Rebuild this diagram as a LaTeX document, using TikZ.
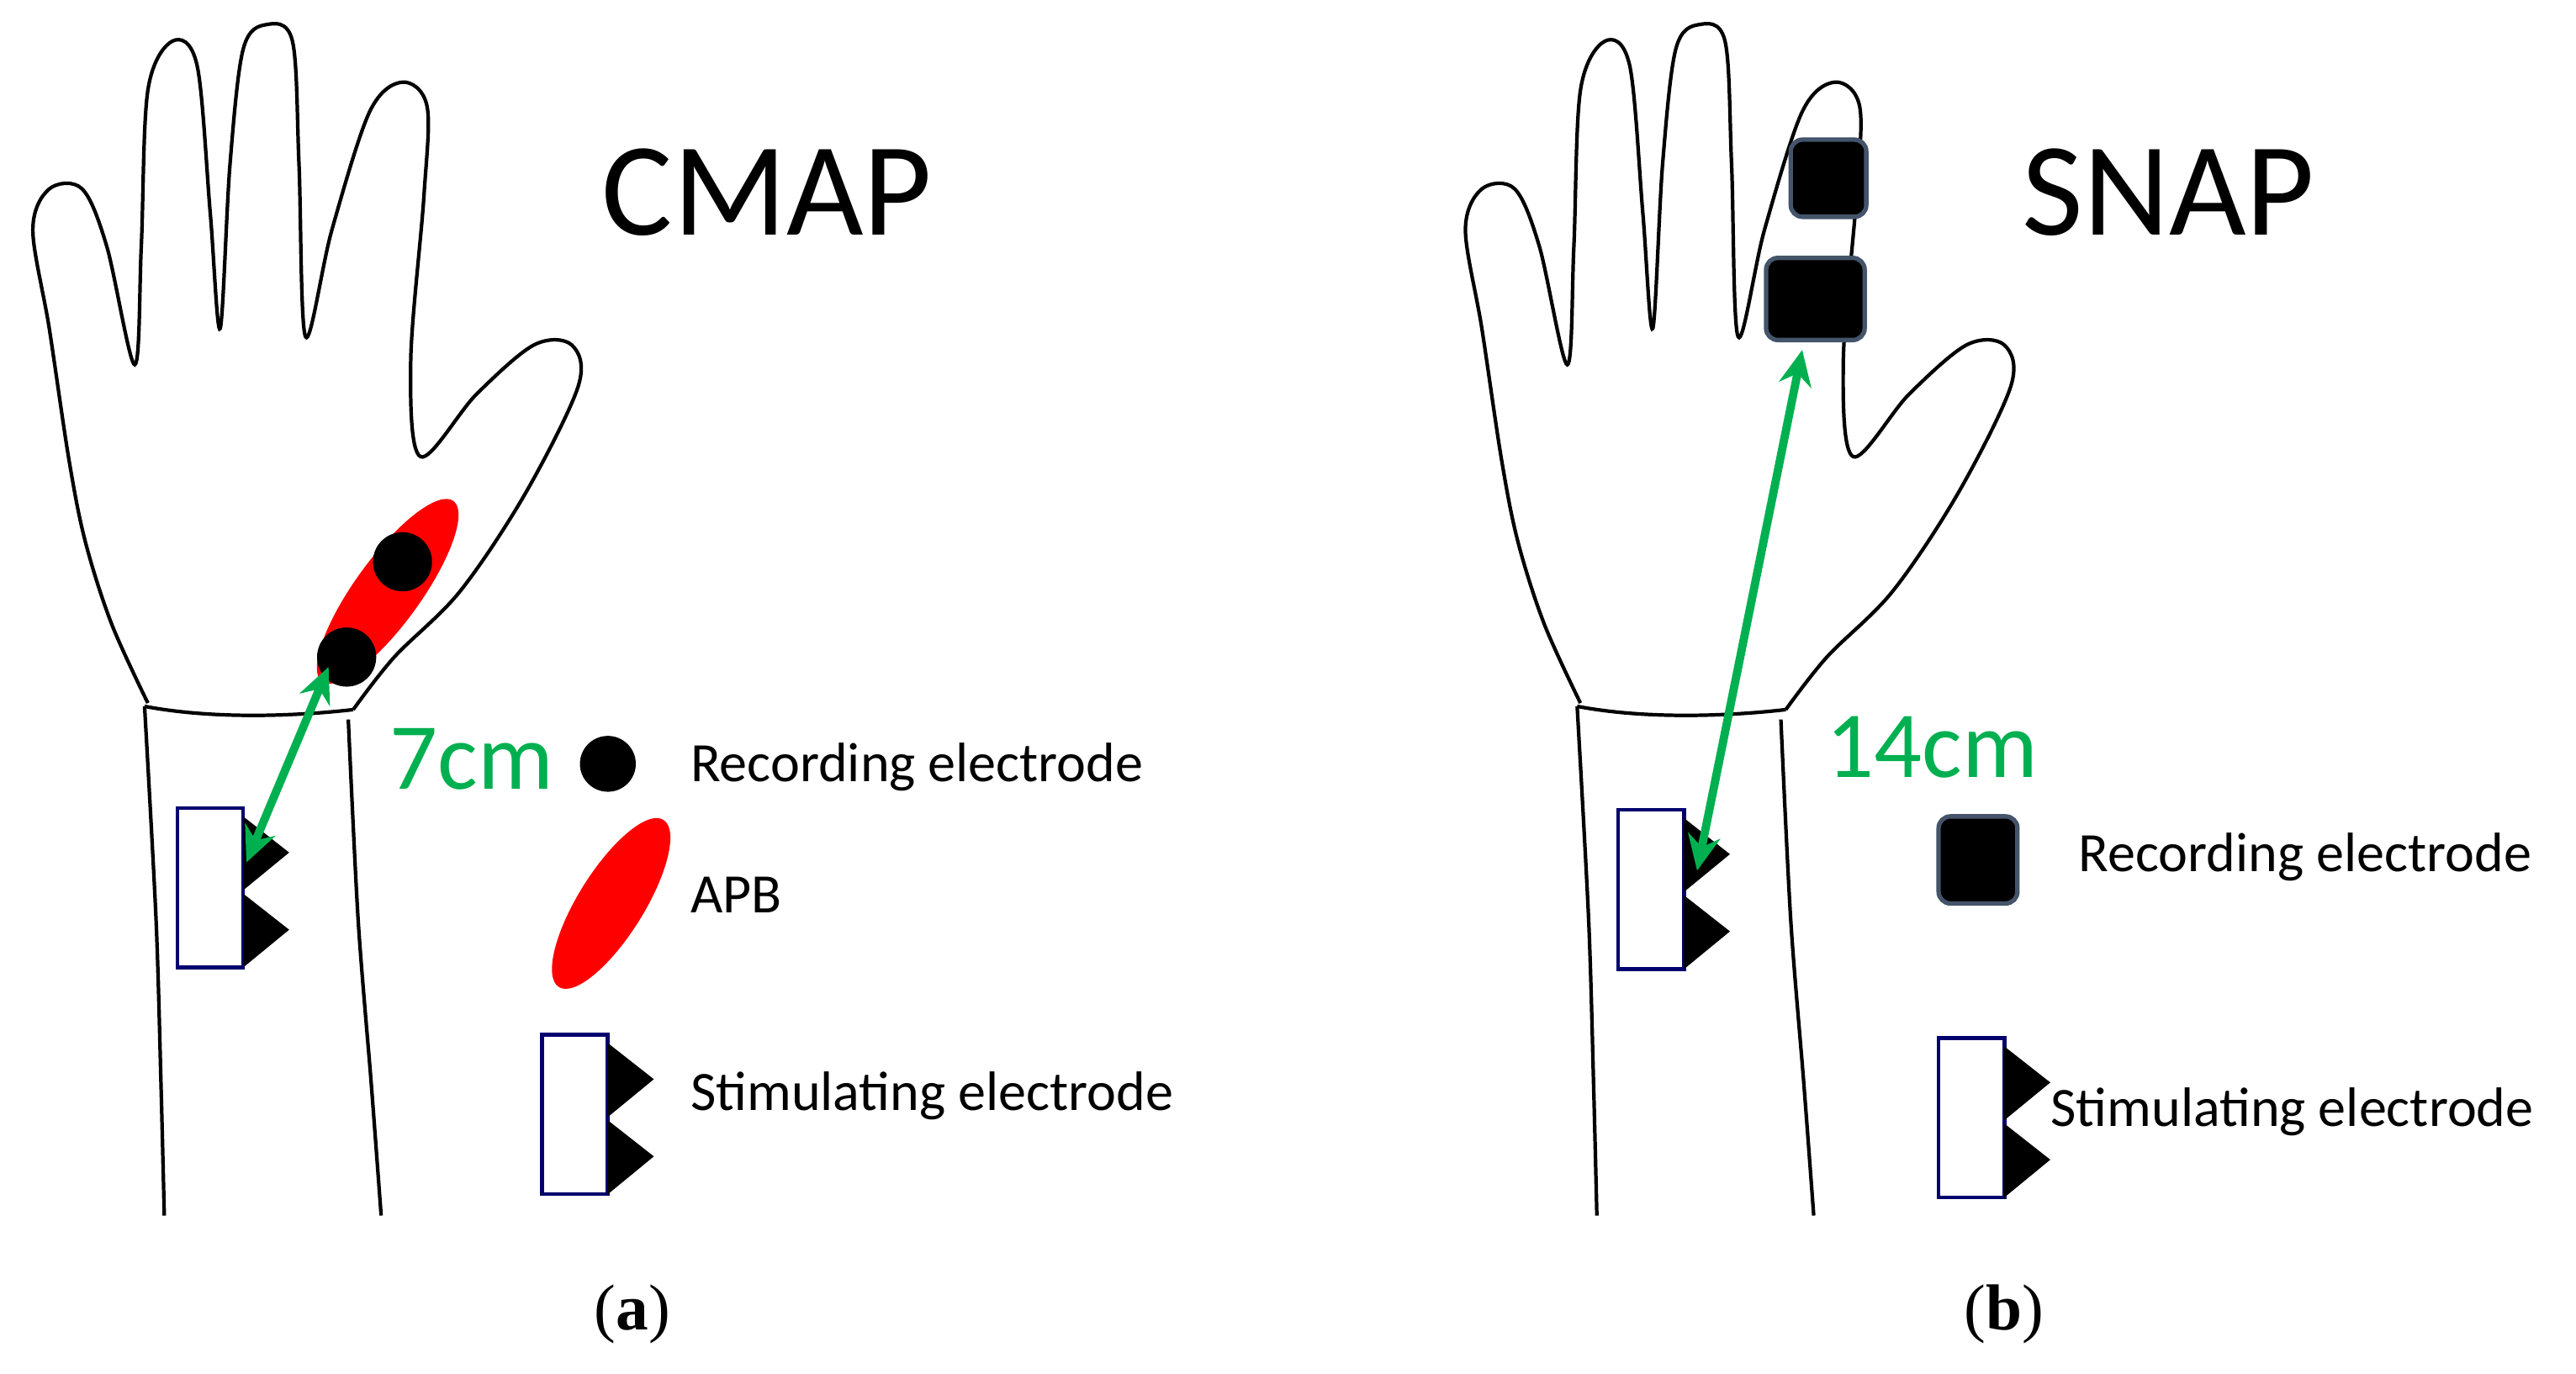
\documentclass[tikz,border=0pt]{standalone}
\usetikzlibrary{arrows.meta}
\usepackage{fontspec}
\setmainfont{Carlito}
\newfontfamily\serifx{Liberation Serif}
\definecolor{grn}{RGB}{0,176,80}
\definecolor{navy}{RGB}{0,0,110}
\definecolor{sq}{RGB}{68,84,106}
\begin{document}
\begin{tikzpicture}[x=0.01953cm,y=-0.01953cm,
  outl/.style={line width=1.2pt,black},
  stim/.style={draw=navy,line width=1.3pt,fill=white},
  tri/.style={fill=black},
  lab/.style={font=\fontsize{18.8}{22}\selectfont,anchor=west,inner sep=0},
  big/.style={font=\fontsize{45}{50}\selectfont},
  meas/.style={font=\fontsize{32}{36}\selectfont,text=grn,inner sep=0},
  sqe/.style={fill=black,draw=sq,line width=1.5pt,rounded corners=4pt},
  arr/.style={grn,line width=2.8pt,<->,>={Stealth[length=12pt,width=11pt]}},
  hand/.pic={
    \draw[outl] plot[smooth,tension=0.55] coordinates{(90,428) (68,380) (52,330) (42,280) (30,200) (20,140) (30,115) (50,115) (65,150) (82,222) (86,150) (90,55) (105,25) (120,40) (128,130) (134,200) (140,100) (148,30) (162,15) (178,25) (182,100) (186,205) (202,140) (225,68) (245,50) (260,65) (258,120) (250,220) (256,278) (290,240) (325,210) (348,210) (352,235) (320,300) (280,360) (240,400) (215,432)};
    \draw[outl] (88,430) .. controls (130,438) and (180,436) .. (215,432);
    \draw[outl] plot[smooth] coordinates{(88,430) (95,560) (98,660) (100,740)};
    \draw[outl] plot[smooth] coordinates{(212,438) (218,560) (226,660) (232,740)};
  },
  stimel/.pic={
    \draw[stim] (0,0) rectangle (40,97);
    \fill[tri] (40,5) -- (68,27) -- (40,50) -- cycle;
    \fill[tri] (40,52) -- (68,74) -- (40,97) -- cycle;
  }]
\useasboundingbox (0,0) rectangle (1568,836);
\fill[white] (0,0) rectangle (1568,836);
% ---- (a)
\pic at (0,0) {hand};
\fill[red,rotate around={54:(236,360)}] (236,360) ellipse (68 and 20);
\fill[black] (245,342) circle (18);
\fill[black] (211,400) circle (18);
\pic at (108,492) {stimel};
\coordinate (a1) at (200,406);
\coordinate (a2) at (150,525);
\draw[arr] (a1) -- (a2);
\node[meas] (m7) at (287,462) {7cm};
\node[big] (cmap) at (467,117) {CMAP};
\fill[black] (370,465) circle (17);
\node[lab] (rl) at (420,467) {Recording electrode};
\fill[red,rotate around={58:(372,550)}] (372,550) ellipse (60 and 20);
\node[lab] (apb) at (420,545) {APB};
\pic at (330,630) {stimel};
\node[lab] (sl) at (420,667) {Stimulating electrode};
\node[font=\serifx\fontsize{22}{26}\selectfont] (ca) at (385,800) {(\textbf{a})};
% ---- (b)
\pic at (872,0) {hand};
\draw[sqe] (1090,85) rectangle (1136,132);
\draw[sqe] (1075,157) rectangle (1135,207);
\pic at (985,493) {stimel};
\coordinate (b1) at (1097,213);
\coordinate (b2) at (1033,530);
\draw[arr] (b1) -- (b2);
\node[meas] (m14) at (1176,455) {14cm};
\node[big] (snap) at (1320,117) {SNAP};
\draw[sqe] (1180,497) rectangle (1228,550);
\node[lab] (rl2) at (1265,522) {Recording electrode};
\pic at (1180,632) {stimel};
\node[lab] (sl2) at (1248,677) {Stimulating electrode};
\node[font=\serifx\fontsize{22}{26}\selectfont] (cb) at (1220,800) {(\textbf{b})};
\end{tikzpicture}
\end{document}
